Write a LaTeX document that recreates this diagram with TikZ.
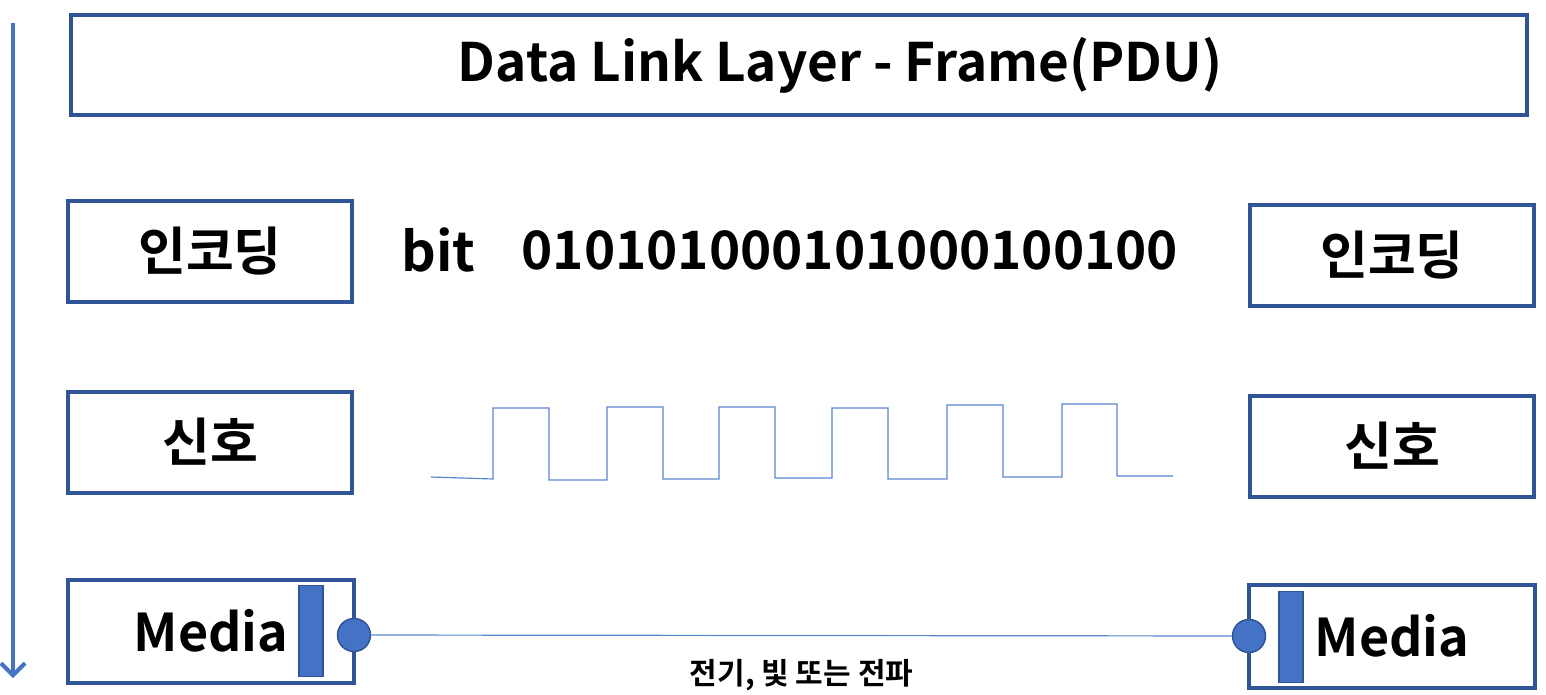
\documentclass[tikz,border=0pt]{standalone}
\usepackage{fontspec}
\setmainfont{Noto Sans CJK KR}[BoldFont={* Bold}]
\usepackage{tikz}
\usetikzlibrary{arrows.meta,positioning}
\definecolor{boxblue}{HTML}{2F5597}
\definecolor{fillblue}{HTML}{4472C4}
\definecolor{wireblue}{HTML}{5B86D0}
\newcommand{\boldsize}[1]{\fontsize{#1}{#1}\selectfont\bfseries}

\begin{document}
\begin{tikzpicture}[
  x=1pt, y=-1pt,
  lay/.style={draw=boxblue, line width=4pt, minimum width=284pt, minimum height=101pt, inner sep=0pt, font=\boldsize{52}},
  bar/.style={draw=boxblue, line width=1.2pt, fill=fillblue, minimum width=24pt, minimum height=91pt, inner sep=0pt},
  port/.style={circle, draw=boxblue, line width=1.5pt, fill=fillblue, minimum size=33pt, inner sep=0pt},
  wave/.style={draw=wireblue, line width=1.2pt}
]
\useasboundingbox (0,0) rectangle (1546,695);

% downward arrow at the left
\coordinate (flowtop) at (13,23);
\coordinate (flowend) at (13,678);
\draw[fillblue, line width=4pt, -{Straight Barb[length=12pt, width=24pt, line width=4pt]}] (flowtop) -- (flowend);

% title
\node[lay, minimum width=1456pt, minimum height=100pt] (frame) at (799,65) {};
\node[font=\boldsize{53}] (frametxt) at (840,65) {Data Link Layer - Frame(PDU)};

% left stack
\node[lay] (encL) at (210,251) {인코딩};
\node[lay] (sigL) at (210,442) {신호};
\node[lay, minimum width=286pt, minimum height=103pt] (medL) at (211,631) {Media};
\node[bar] (barL) at (311,631) {};
\node[port] (portL) at (354,635) {};

% right stack
\node[lay] (encR) at (1392,255) {인코딩};
\node[lay] (sigR) at (1392,446) {신호};
\node[lay, minimum width=286pt, minimum height=103pt] (medR) at (1392,636) {Media};
\node[bar] (barR) at (1291,637) {};
\node[port] (portR) at (1249,636) {};

% bit string
\node[anchor=west, font=\boldsize{54}] (bitlbl) at (398,250) {bit};
\node[anchor=west, font=\boldsize{53}] (bits) at (518,250) {010101000101000100100};

% square wave
\draw[wave] (431,477) -- (493,479) -- (493,408) -- (549,408) -- (549,480) -- (607,480)
  -- (607,407) -- (663,407) -- (663,479) -- (719,479) -- (719,407) -- (775,407) -- (775,478)
  -- (832,478) -- (832,408) -- (888,408) -- (888,479) -- (947,479) -- (947,405) -- (1003,405)
  -- (1003,477) -- (1062,477) -- (1062,404) -- (1117,404) -- (1117,476) -- (1173,476);

% medium between the ports
\draw[wave] (portL) -- node[below=20pt, black, font=\boldsize{30}] (medium) {전기, 빛 또는 전파} (portR);
\end{tikzpicture}
\end{document}
